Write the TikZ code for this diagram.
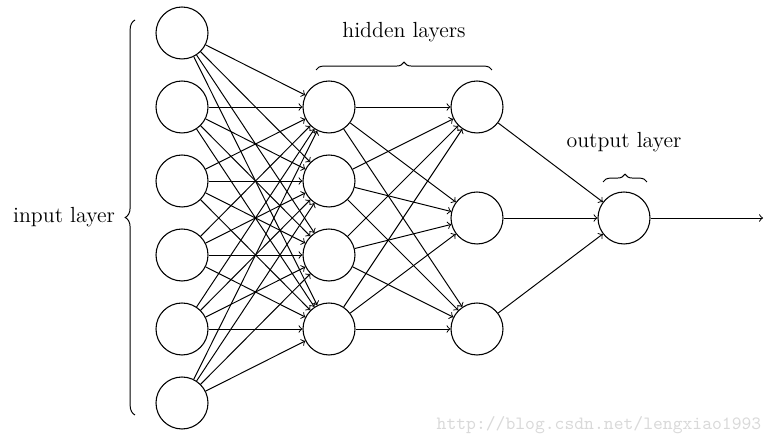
\documentclass[tikz,border=0pt]{standalone}
\usepackage{tikz}
\usetikzlibrary{arrows.meta,decorations.pathreplacing}
\tikzset{
  neuron/.style={draw,circle,line width=0.55pt,minimum size=0.936cm,inner sep=0pt},
  syn/.style={->,line width=0.5pt},
  layerbrace/.style={decorate,decoration={brace,amplitude=#1},line width=0.5pt},
  lbl/.style={font=\fontsize{11.2}{13}\selectfont}
}

\begin{document}
\begin{tikzpicture}[x=0.018cm,y=0.018cm,>=to]
  \useasboundingbox (0,0) rectangle (776,446);
  % input layer
  \foreach \i/\y in {1/413,2/339,3/265,4/191,5/117,6/43}
    \node[neuron] (in\i) at (182,\y) {};
  % hidden layers
  \foreach \i/\y in {1/339,2/265,3/191,4/117}
    \node[neuron] (hA\i) at (329,\y) {};
  \foreach \i/\y in {1/339,2/228,3/117}
    \node[neuron] (hB\i) at (477,\y) {};
  % output layer
  \node[neuron] (out) at (624,228) {};
  \coordinate (end) at (763,228);
  % connections
  \foreach \i in {1,...,6}
    \foreach \j in {1,...,4}
      \draw[syn] (in\i) -- (hA\j);
  \foreach \i in {1,...,4}
    \foreach \j in {1,...,3}
      \draw[syn] (hA\i) -- (hB\j);
  \foreach \j in {1,...,3}
    \draw[syn] (hB\j) -- (out);
  \draw[syn] (out) -- (end);
  % braces and labels
  \draw[layerbrace=5pt] (135,31) -- (135,426);
  \node[lbl] (lin) at (64,229) {input layer};
  \draw[layerbrace=4pt] (316,376) -- (492,376);
  \node[lbl] (lhid) at (404,414) {hidden layers};
  \draw[layerbrace=4pt] (603,264) -- (647,264);
  \node[lbl] (lout) at (624,304) {output layer};
  \node[gray!30,font=\fontsize{9.6}{11}\ttfamily] (mark) at (599,21) {http://blog.csdn.net/lengxiao1993};
\end{tikzpicture}
\end{document}
